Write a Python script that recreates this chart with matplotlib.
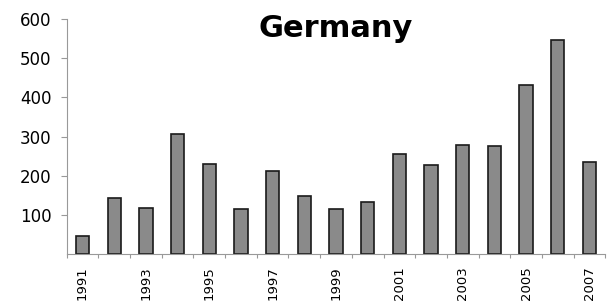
import numpy as np
import matplotlib.pyplot as plt

plt.rcParams['font.family'] = ['DejaVu Sans']

years = list(range(1991, 2008))
values = [45, 143, 118, 306, 229, 115, 212, 149, 115, 133, 255, 228, 278, 275, 431, 546, 235]
ytick_values = [100, 200, 300, 400, 500, 600]


def plot_chart(output_file='out.png'):
    fig = plt.figure(figsize=(6.12, 3.03), dpi=100)
    ax = fig.add_axes([0.109, 0.162, 0.88, 0.775])

    x = np.arange(len(years))
    ax.bar(x, values, width=0.42, color='#8a8a8a', edgecolor='#1a1a1a', linewidth=1.2)

    ax.set_xlim(-0.5, len(years) - 0.5)
    ax.set_ylim(0, 600)

    # category boundaries get the ticks, labels every other year
    ax.set_xticks(np.arange(-0.5, len(years), 1.0))
    ax.set_xticklabels([])
    ax.set_xticks(x[::2], minor=True)
    ax.set_xticklabels([str(y) for y in years[::2]], minor=True, rotation=90, fontsize=9.5)
    ax.tick_params(axis='x', which='major', length=3, color='#999999', direction='out')
    ax.tick_params(axis='x', which='minor', length=0, pad=9)

    ax.set_yticks(ytick_values)
    ax.tick_params(axis='y', length=4, color='#999999', labelsize=12, pad=7)

    for side in ['top', 'right']:
        ax.spines[side].set_visible(False)
    for side in ['left', 'bottom']:
        ax.spines[side].set_color('#999999')

    ax.text(0.5, 0.925, 'Germany', transform=ax.transAxes, ha='center', va='baseline',
            fontsize=22, fontweight='bold')

    fig.savefig(output_file, dpi=100)


if __name__ == '__main__':
    plot_chart()
